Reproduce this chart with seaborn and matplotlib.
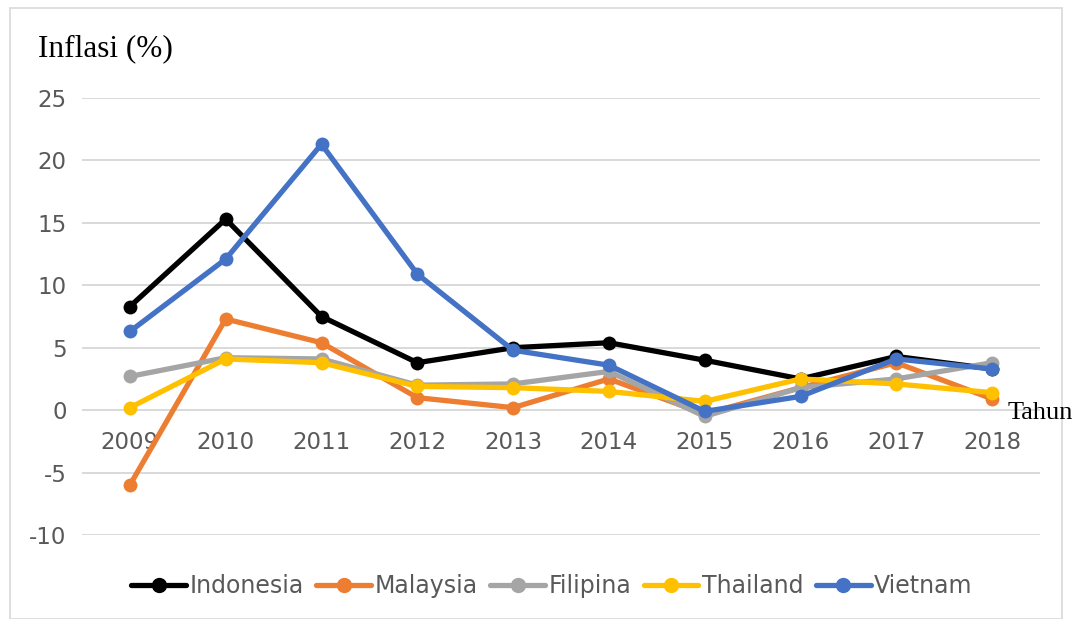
import seaborn as sns
import pandas as pd
import matplotlib.pyplot as plt
from matplotlib.patches import Rectangle

years = ["2009", "2010", "2011", "2012", "2013", "2014", "2015", "2016", "2017", "2018"]
indonesia = [8.3, 15.3, 7.5, 3.8, 5.0, 5.4, 4.0, 2.5, 4.3, 3.3]
malaysia = [-6.0, 7.3, 5.4, 1.0, 0.2, 2.5, -0.3, 1.8, 3.8, 0.9]
filipina = [2.7, 4.2, 4.1, 2.0, 2.1, 3.1, -0.5, 1.8, 2.5, 3.8]
thailand = [0.2, 4.1, 3.8, 1.9, 1.8, 1.5, 0.7, 2.5, 2.1, 1.4]
vietnam = [6.3, 12.1, 21.3, 10.9, 4.8, 3.6, -0.1, 1.1, 4.1, 3.3]

countries = ["Indonesia", "Malaysia", "Filipina", "Thailand", "Vietnam"]
colors = ["#000000", "#ED7D31", "#A5A5A5", "#FFC000", "#4472C4"]

sns.set_theme(style="white")
plt.rcParams["font.family"] = ["DejaVu Sans"]
plt.rcParams["axes.unicode_minus"] = False

df = pd.DataFrame({
    "year": years * 5,
    "value": indonesia + malaysia + filipina + thailand + vietnam,
    "country": [c for c in countries for _ in years],
})

fig = plt.figure(figsize=(10.74, 6.19), dpi=100)
fig.patch.set_facecolor("white")
ax = fig.add_axes([82 / 1074, 1 - 535 / 619, (1040 - 82) / 1074, (535 - 98) / 619])

sns.lineplot(data=df, x="year", y="value", hue="country", palette=dict(zip(countries, colors)),
             marker="o", markersize=10, markeredgewidth=0, linewidth=3.8, ax=ax, legend=False)
for line in ax.lines:
    line.set_clip_on(False)

ax.set_xlim(-0.5, 9.5)
ax.set_ylim(-10, 25)
ax.set_yticks(range(-10, 30, 5))
ax.grid(axis="y", color="#D9D9D9", linewidth=1.4)
ax.set_axisbelow(True)
for s in ["left", "right", "top"]:
    ax.spines[s].set_visible(False)
ax.spines["bottom"].set_position(("data", 0))
ax.spines["bottom"].set_visible(False)
ax.tick_params(axis="x", length=0, pad=15, labelsize=16.5, labelcolor="#595959")
ax.tick_params(axis="y", length=0, pad=11, labelsize=16.5, labelcolor="#595959")
ax.set_xlabel("")
ax.set_ylabel("")

fig.text(38 / 1074, 1 - 49 / 619, "Inflasi (%)", fontsize=22.5, family="Liberation Serif",
         ha="left", va="center", color="black")
fig.text(1008 / 1074, 1 - 413 / 619, "Tahun", fontsize=19, family="Liberation Serif",
         ha="left", va="center", color="black")

handles = [plt.Line2D([], [], color=c, marker="o", markersize=10, linewidth=3.8) for c in colors]
fig.legend(handles, countries, loc="center", bbox_to_anchor=(0.514, 1 - 586 / 619), ncol=5,
           frameon=False, fontsize=17, labelcolor="#595959", handlelength=2.3,
           handletextpad=0.15, columnspacing=0.55)

fig.add_artist(Rectangle((10 / 1074, 0), 1052 / 1074, 1 - 8 / 619, transform=fig.transFigure,
                         fill=False, edgecolor="#D9D9D9", linewidth=1.2))

fig.savefig("out.png", dpi=100)
